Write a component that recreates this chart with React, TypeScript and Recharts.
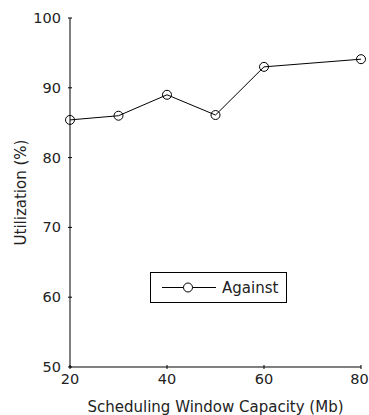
import React from 'react';
import { LineChart, Line, XAxis, YAxis, Legend } from 'recharts';

const capacity = [20, 30, 40, 50, 60, 80];
const against = [85.4, 86.0, 89.0, 86.1, 93.0, 94.1];
const xTicks = [20, 40, 60, 80];
const yTicks = [50, 60, 70, 80, 90, 100];

const data = capacity.map((c, i) => ({ capacity: c, against: against[i] }));

const FONT = '"DejaVu Sans", sans-serif';
const TICK = 4;
const CHART_W = 369;

// keep the last x label inside the picture (it sits right on the edge in the original)
const BottomTick = ({ x, y, payload }: any) => {
    const half = String(payload.value).length * 4.3;
    const tx = Math.min(x, CHART_W - 1 - half);
    return (
        <g>
            <line x1={x} y1={y} x2={x} y2={y - TICK} stroke="#000" />
            <text x={tx} y={y + 15} textAnchor="middle" fontSize={14.5} fontFamily={FONT} fill="#222">
                {payload.value}
            </text>
        </g>
    );
};

const TopTick = ({ x, y }: any) => <line x1={x} y1={y} x2={x} y2={y + TICK} stroke="#000" />;

const LeftTick = ({ x, y, payload }: any) => (
    <g>
        <line x1={x} y1={y} x2={x + TICK} y2={y} stroke="#000" />
        <text x={x - 7} y={y + 5} textAnchor="end" fontSize={14.5} fontFamily={FONT} fill="#222">
            {payload.value}
        </text>
    </g>
);

const RightTick = ({ x, y }: any) => <line x1={x} y1={y} x2={x - TICK} y2={y} stroke="#000" />;

const YTitle = ({ viewBox }: any) => {
    const cx = viewBox.x + 21;
    const cy = viewBox.y + viewBox.height / 2;
    return (
        <text
            x={cx}
            y={cy}
            transform={`rotate(-90 ${cx} ${cy})`}
            textAnchor="middle"
            dominantBaseline="central"
            fontSize={15}
            fontFamily={FONT}
            fill="#222"
        >
            Utilization (%)
        </text>
    );
};

const LegendBox = () => (
    <svg width={137} height={31} style={{ display: 'block' }}>
        <rect x={0.5} y={0.5} width={136} height={30} fill="#fff" stroke="#000" />
        <line x1={12} y1={15.5} x2={66} y2={15.5} stroke="#000" />
        <circle cx={38} cy={15.5} r={4.5} fill="#fff" stroke="#000" />
        <text x={72} y={21} fontSize={15} fontFamily={FONT} fill="#222">
            Against
        </text>
    </svg>
);

export default function App() {
    return (
        <div style={{ position: 'absolute', left: 0, top: 0, background: '#fff' }}>
            <LineChart width={CHART_W} height={415} data={data} margin={{ top: 18, right: 8, left: 0, bottom: 0 }}>
                <XAxis
                    dataKey="capacity"
                    type="number"
                    domain={[20, 80]}
                    ticks={xTicks}
                    height={48}
                    tickSize={0}
                    tickLine={false}
                    tick={<BottomTick />}
                    axisLine={{ stroke: '#000' }}
                    label={{
                        value: 'Scheduling Window Capacity (Mb)',
                        position: 'insideBottom',
                        offset: 3,
                        fontSize: 15,
                        fontFamily: FONT,
                        fill: '#222',
                    }}
                />
                <XAxis
                    xAxisId="top"
                    orientation="top"
                    dataKey="capacity"
                    type="number"
                    domain={[20, 80]}
                    ticks={xTicks}
                    height={0}
                    tickSize={0}
                    tickLine={false}
                    tick={<TopTick />}
                    axisLine={{ stroke: '#000' }}
                />
                <YAxis
                    type="number"
                    domain={[50, 100]}
                    ticks={yTicks}
                    width={70}
                    tickSize={0}
                    tickLine={false}
                    tick={<LeftTick />}
                    axisLine={{ stroke: '#000' }}
                    label={{ content: <YTitle /> }}
                />
                <YAxis
                    yAxisId="right"
                    orientation="right"
                    type="number"
                    domain={[50, 100]}
                    ticks={yTicks}
                    width={0}
                    tickSize={0}
                    tickLine={false}
                    tick={<RightTick />}
                    axisLine={{ stroke: '#000' }}
                />
                <Legend
                    layout="horizontal"
                    verticalAlign="middle"
                    align="center"
                    content={<LegendBox />}
                    wrapperStyle={{ position: 'absolute', left: 150, top: 272, width: 137, height: 31 }}
                />
                <Line
                    type="linear"
                    dataKey="against"
                    stroke="#000"
                    strokeWidth={1}
                    dot={{ r: 4.5, stroke: '#000', strokeWidth: 1, fill: 'none' }}
                    isAnimationActive={false}
                />
            </LineChart>
        </div>
    );
}
